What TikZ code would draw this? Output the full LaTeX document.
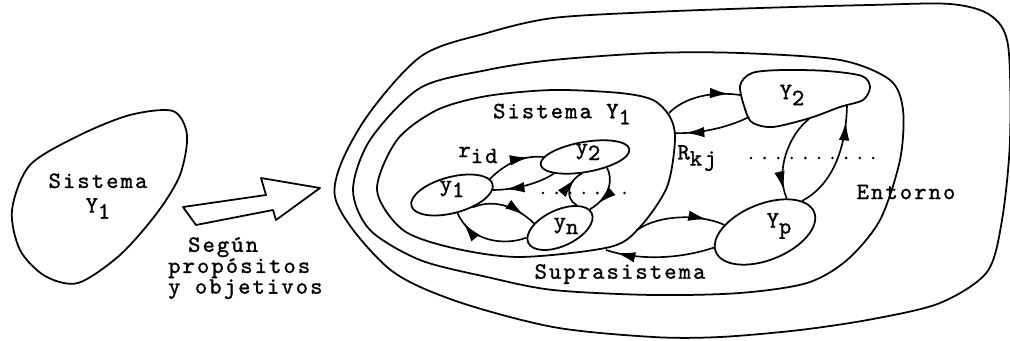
\documentclass[tikz,border=0pt]{standalone}
\usepackage{fontspec}
\setmainfont{lmmono10-regular.otf}[LetterSpace=9, FakeBold=1.2]
\usetikzlibrary{shapes.geometric, arrows.meta, decorations.markings}
\tikzstyle{contour}=[line width=1.5pt, line join=round]
\tikzstyle{elem}=[ellipse, draw, line width=1.5pt, inner sep=0pt]
\tikzstyle{lbl}=[font=\fontsize{20}{15}\selectfont, inner sep=0pt]
\tikzstyle{dots}=[line width=2.4pt, line cap=round, dash pattern=on 0pt off 11.6pt]
\tikzset{rel/.style={line width=1.4pt, decoration={markings,
  mark=at position #1 with {\arrow{Latex[length=16pt,width=9pt]}}}, postaction={decorate}}}
\newcommand{\lowix}[1]{\raisebox{-0.6ex}{#1}}

\begin{document}
\begin{tikzpicture}[x=0.03cm, y=-0.03cm]
  \useasboundingbox (0,0) rectangle (1010,341);

  % sistema aislado
  \draw[contour] plot[smooth cycle] coordinates {(173,111) (187,135) (180,175) (157,213)
    (120,255) (78,283) (45,276) (20,250) (12,210) (30,165) (80,135) (130,115)};
  \node[lbl, align=center] (sis0) at (98,196) {Sistema\\[6pt]Y\lowix{1}};

  \draw[contour] (183,207) -- (266,195) -- (261,178) -- (320,188) -- (276,220)
    -- (273,210) -- (196,225) -- cycle;
  \node[lbl, align=left, anchor=north west, font=\fontsize{20}{16.5}\selectfont] (crit)
    at (168,237) {\hspace*{0.85em}Según\\propósitos\\y objetivos};

  % entorno, suprasistema y sistema
  \draw[contour] plot[smooth cycle] coordinates {(335,197) (360,127) (420,57) (487,33)
    (553,18) (653,12) (760,8) (870,5) (950,4) (990,15) (1008,45) (1010,140) (1002,220)
    (987,272) (940,303) (873,319) (800,330) (720,337) (653,337) (553,327) (453,300) (387,267)};
  \draw[contour] plot[smooth cycle] coordinates {(353,190) (370,140) (420,88) (487,70)
    (553,60) (653,53) (740,53) (840,60) (890,80) (903,110) (900,160) (880,220) (847,260)
    (807,283) (740,293) (653,295) (553,290) (487,277) (420,260) (370,230)};
  \draw[contour] plot[smooth cycle] coordinates {(377,190) (397,140) (437,110) (487,96)
    (553,90) (620,93) (653,100) (670,117) (675,140) (667,187) (640,227) (610,247)
    (520,257) (453,248) (403,230)};
  \draw[contour] plot[smooth cycle] coordinates {(740,86) (752,73) (783,70) (827,71)
    (862,76) (870,87) (863,100) (840,107) (810,118) (773,127) (753,123) (746,112)};

  \coordinate (s1) at (669,113);
  \coordinate (s2) at (674,133);
  \coordinate (s3) at (637,230);
  \coordinate (s4) at (606,250);
  \coordinate (Y2a) at (740,95);
  \coordinate (Y2b) at (749,117);
  \coordinate (Y2c) at (810,118);
  \coordinate (Y2d) at (847,105);

  % elementos
  \node[elem, rotate=15, minimum width=2.52cm, minimum height=1.08cm] (y1) at (452,195) {};
  \node[elem, rotate=10, minimum width=2.7cm, minimum height=0.9cm] (y2) at (585,157) {};
  \node[elem, rotate=25, minimum width=2.1cm, minimum height=1.08cm] (yn) at (560,228) {};
  \node[elem, rotate=22, minimum width=3.18cm, minimum height=1.68cm] (Yp) at (765,232) {};

  \node[lbl] (y1t) at (452,189) {y\lowix{1}};
  \node[lbl] (y2t) at (588,152) {y\lowix{2}};
  \node[lbl] (ynt) at (566,226) {y\lowix{n}};
  \node[lbl] (Y2t) at (792,95) {Y\lowix{2}};
  \node[lbl] (Ypt) at (779,226) {Y\lowix{p}};
  \node[lbl] (sis1) at (562,114) {Sistema Y\lowix{1}};
  \node[lbl] (rid) at (478,155) {r\lowix{id}};
  \node[lbl] (Rkj) at (697,158) {R\lowix{kj}};
  \node[lbl] (supra) at (620,274) {Suprasistema};
  \node[lbl] (ent) at (906,192) {Entorno};

  % relaciones
  \draw[rel=0.75] (y1.8) .. controls (505,164) and (522,155) .. (y2.170);
  \draw[rel=0.8] (y2.198) .. controls (540,183) and (515,190) .. (y1.-8);
  \draw[rel=0.8] (y1.-46) .. controls (492,199) and (515,205) .. (yn.145);
  \draw[rel=0.85] (yn.171) .. controls (505,246) and (470,242) .. (y1.-88);
  \draw[rel=0.75] (yn.29) .. controls (564,198) and (568,180) .. (y2.-110);
  \draw[rel=0.8] (y2.-36) .. controls (613,178) and (611,197) .. (yn.7);

  \draw[rel=0.85] (s1) .. controls (685,97) and (712,91) .. (Y2a);
  \draw[rel=0.85] (Y2b) .. controls (725,129) and (695,134) .. (s2);
  \draw[rel=0.9] (Y2c) .. controls (788,135) and (775,172) .. (Yp.35);
  \draw[rel=0.85] (Yp.18) .. controls (832,185) and (846,150) .. (Y2d);
  \draw[rel=0.8] (s3) .. controls (660,214) and (700,214) .. (Yp.148);
  \draw[rel=0.9] (Yp.175) .. controls (670,262) and (630,258) .. (s4);

  \draw[dots] (543,193) -- (633,193);
  \draw[dots] (751,158) -- (878,158);
\end{tikzpicture}
\end{document}
